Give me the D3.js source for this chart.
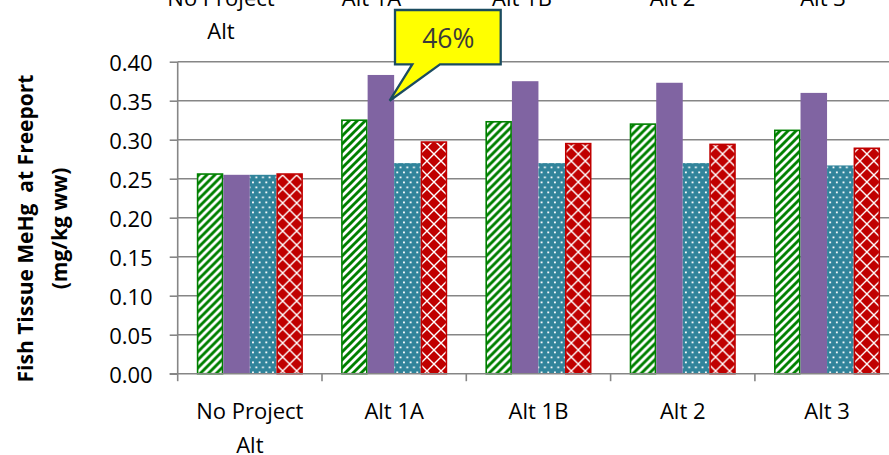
<!DOCTYPE html>
<html>
<head>
<meta charset="utf-8">
<script src="https://cdn.jsdelivr.net/npm/d3@7"></script>
<style>
  html, body { margin: 0; padding: 0; background: #fff; }
  svg { display: block; }
  text { font-family: "Open Sans", "Noto Sans", sans-serif; }
</style>
</head>
<body>
<svg id="chart" width="889" height="455"></svg>
<script>
// Alternatives compared (line breaks marked with \n)
const categories = ["No Project\nAlt", "Alt 1A", "Alt 1B", "Alt 2", "Alt 3"];

// Fish tissue MeHg (mg/kg ww) for each of the four series
const seriesGreen  = [0.257, 0.326, 0.324, 0.321, 0.313];
const seriesPurple = [0.255, 0.383, 0.375, 0.373, 0.360];
const seriesTeal   = [0.255, 0.270, 0.270, 0.270, 0.267];
const seriesRed    = [0.257, 0.298, 0.296, 0.295, 0.290];

const seriesNames = ["green", "purple", "teal", "red"];
const yTicks = [0, 0.05, 0.10, 0.15, 0.20, 0.25, 0.30, 0.35, 0.40];
const yTitleLines = ["Fish Tissue MeHg  at Freeport", "(mg/kg ww)"];
const calloutText = "46%";

const seriesValues = {
  green: seriesGreen, purple: seriesPurple, teal: seriesTeal, red: seriesRed
};
const rows = categories.map((c, i) => ({
  category: c,
  values: seriesNames.map(s => ({ key: s, value: seriesValues[s][i] }))
}));

const svg = d3.select("#chart");
const defs = svg.append("defs");

// ---- fill patterns ----
const pGreen = defs.append("pattern").attr("id", "pat-green")
  .attr("patternUnits", "userSpaceOnUse").attr("width", 8).attr("height", 8);
pGreen.append("rect").attr("width", 8).attr("height", 8).attr("fill", "#008000");
pGreen.append("path").attr("d", "M-2,2 L2,-2 M0,8 L8,0 M6,10 L10,6")
  .attr("stroke", "#fff").attr("stroke-width", 2.8);

const pTeal = defs.append("pattern").attr("id", "pat-teal")
  .attr("patternUnits", "userSpaceOnUse").attr("width", 6.67).attr("height", 10);
pTeal.append("rect").attr("width", 6.67).attr("height", 10).attr("fill", "#31849B");
pTeal.append("rect").attr("x", 1).attr("y", 1.5).attr("width", 1.8).attr("height", 1.8).attr("fill", "#fff");
pTeal.append("rect").attr("x", 4.33).attr("y", 6.5).attr("width", 1.8).attr("height", 1.8).attr("fill", "#fff");

const pRed = defs.append("pattern").attr("id", "pat-red")
  .attr("patternUnits", "userSpaceOnUse").attr("width", 14).attr("height", 14);
pRed.append("rect").attr("width", 14).attr("height", 14).attr("fill", "#C00000");
pRed.append("path").attr("d", "M0,0 L14,14 M14,0 L0,14")
  .attr("stroke", "#fff").attr("stroke-width", 1.4);

const fills = { green: "url(#pat-green)", purple: "#8064A2", teal: "url(#pat-teal)", red: "url(#pat-red)" };
const strokes = { green: "#008000", purple: "none", teal: "none", red: "#C00000" };

// ---- scales ----
const plotLeft = 177.7, plotBottom = 373.7, plotTop = 61.7;
const bandW = 144.3;
const x0 = d3.scaleBand().domain(categories)
  .range([plotLeft, plotLeft + bandW * categories.length]).paddingInner(0).paddingOuter(0);
const groupPad = 19.1;
const x1 = d3.scaleBand().domain(seriesNames)
  .range([groupPad, x0.bandwidth() - groupPad]).paddingInner(0);
const y = d3.scaleLinear().domain([0, 0.4]).range([plotBottom, plotTop]);

const gridColor = "#868686";

// ---- gridlines ----
svg.append("g").selectAll("line").data(yTicks.filter(t => t > 0)).join("line")
  .attr("x1", plotLeft).attr("x2", x0.range()[1])
  .attr("y1", d => y(d)).attr("y2", d => y(d))
  .attr("stroke", gridColor).attr("stroke-width", 1.6);

// ---- bars ----
const groups = svg.append("g").selectAll("g").data(rows).join("g")
  .attr("transform", d => `translate(${x0(d.category)},0)`);
groups.selectAll("rect").data(d => d.values).join("rect")
  .attr("x", d => x1(d.key) + (strokes[d.key] === "none" ? 0 : 0.8))
  .attr("width", d => x1.bandwidth() - (strokes[d.key] === "none" ? 0 : 1.6))
  .attr("y", d => y(d.value) + (strokes[d.key] === "none" ? 0 : 0.8))
  .attr("height", d => plotBottom - y(d.value) - (strokes[d.key] === "none" ? 0 : 0.8))
  .attr("fill", d => fills[d.key])
  .attr("stroke", d => strokes[d.key])
  .attr("stroke-width", 1.6);

// ---- y axis ----
const yAxis = d3.axisLeft(y).tickValues(yTicks).tickFormat(d3.format(".2f"))
  .tickSize(8).tickPadding(17);
const gy = svg.append("g").attr("transform", `translate(${plotLeft},0)`).call(yAxis);
gy.select(".domain").attr("stroke", gridColor).attr("stroke-width", 1.6)
  .attr("d", `M0,${plotTop}V${plotBottom}`);
gy.selectAll(".tick line").attr("stroke", gridColor).attr("stroke-width", 1.6);
gy.selectAll(".tick text").attr("font-size", 22).attr("fill", "#000")
  .attr("font-family", "'Open Sans', sans-serif").attr("dy", "0.42em");

// ---- x axis ----
const gx = svg.append("g").attr("transform", `translate(0,${plotBottom})`);
gx.append("line").attr("x1", plotLeft - 8).attr("x2", x0.range()[1])
  .attr("stroke", gridColor).attr("stroke-width", 1.6);
const boundaries = categories.map(c => x0(c)).concat([x0.range()[1]]);
gx.selectAll("line.tk").data(boundaries).join("line").attr("class", "tk")
  .attr("x1", d => d).attr("x2", d => d).attr("y1", 0).attr("y2", 7.5)
  .attr("stroke", gridColor).attr("stroke-width", 1.6);

function drawCategoryLabels(sel, xpos, firstBaseline) {
  sel.selectAll("text").data(categories).join("text")
    .attr("text-anchor", "middle").attr("font-size", 22).attr("fill", "#000")
    .each(function (d, i) {
      const t = d3.select(this);
      d.split("\n").forEach((line, j) => {
        t.append("tspan").attr("x", xpos(d, i)).attr("y", firstBaseline + j * 33.4).text(line);
      });
    });
}
drawCategoryLabels(svg.append("g"), d => x0(d) + x0.bandwidth() / 2, 419.3);

// category row of the panel above, cut by the top edge
const xTop = d3.scalePoint().domain(categories).range([221, 823]);
drawCategoryLabels(svg.append("g"), d => xTop(d), 5.8);

// ---- y axis title ----
const yTitle = svg.append("text")
  .attr("transform", "translate(0,228.5) rotate(-90)")
  .attr("text-anchor", "middle").attr("font-weight", "bold").attr("font-size", 21)
  .attr("fill", "#000").style("white-space", "pre");
yTitleLines.forEach((line, j) => {
  yTitle.append("tspan").attr("x", 0).attr("y", 33.4 + j * 34).text(line);
});

// ---- callout on the Alt 1A purple bar ----
const tipX = x0("Alt 1A") + x1("purple") + x1.bandwidth() - 4.5;
const tipY = y(0.35);
const bx0 = 395, bx1 = 500.7, by0 = 10, by1 = 64.3;
svg.append("path")
  .attr("d", `M${bx0},${by0}H${bx1}V${by1}H440L${tipX},${tipY}L412.3,${by1}H${bx0}Z`)
  .attr("fill", "#FFFF00").attr("stroke", "#1B4C60").attr("stroke-width", 2.3)
  .attr("stroke-linejoin", "miter");
svg.append("text").attr("x", 448.3).attr("y", 48.3).attr("text-anchor", "middle")
  .attr("font-size", 26.5).attr("fill", "#3a3a3a").text(calloutText);
</script>
</body>
</html>
